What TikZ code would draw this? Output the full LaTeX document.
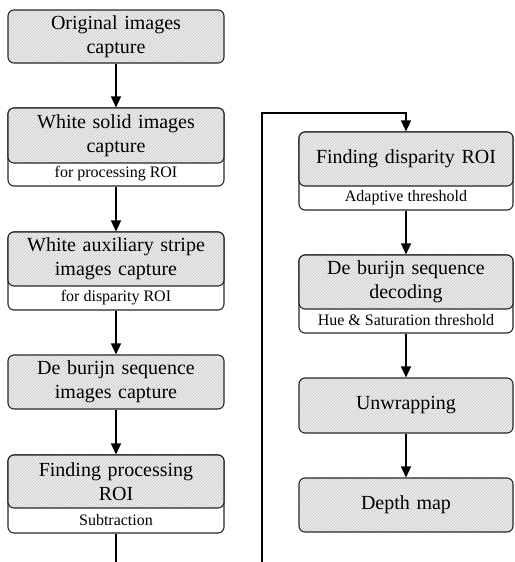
\documentclass[tikz,border=0pt]{standalone}
\usepackage{fontspec}
\setmainfont{Liberation Serif}
\usetikzlibrary{arrows.meta,patterns,calc}
\begin{document}
\begin{tikzpicture}[x=1pt,y=1pt,
  outerbox/.style={draw=black!85, line width=1.1pt, rounded corners=6pt, fill=white, inner sep=0pt},
  graybox/.style={draw=black!85, line width=1.1pt, rounded corners=6pt, inner sep=0pt,
     preaction={fill=gray!13}, pattern=north east lines, pattern color=gray!45,
     align=center, text width=204pt, font=\fontsize{20}{24}\selectfont},
  subtxt/.style={inner sep=0pt, font=\fontsize{16}{17}\selectfont},
  conn/.style={line width=1.3pt, -{Triangle[length=11pt,width=10pt]}},
  plain/.style={line width=1.3pt}
]
\useasboundingbox (0,0) rectangle (514,-562);
% Left column
\node[graybox, minimum width=216pt, minimum height=53pt] (L1) at (116,-36.5) {Original images\\capture};

\node[outerbox, minimum width=216pt, minimum height=78pt] (L2o) at (116,-147) {};
\node[graybox, minimum width=216pt, minimum height=55pt, anchor=north] (L2) at (L2o.north) {White solid images\\capture};
\node[subtxt] (L2s) at ($(L2.south)!0.45!(L2o.south)$) {for processing ROI};

\node[outerbox, minimum width=216pt, minimum height=78pt] (L3o) at (116,-271) {};
\node[graybox, minimum width=216pt, minimum height=54pt, anchor=north] (L3) at (L3o.north) {White auxiliary stripe\\images capture};
\node[subtxt] (L3s) at ($(L3.south)!0.45!(L3o.south)$) {for disparity ROI};

\node[graybox, minimum width=216pt, minimum height=54pt] (L4) at (116,-382) {De burijn sequence\\images capture};

\node[outerbox, minimum width=216pt, minimum height=78pt] (L5o) at (116,-494) {};
\node[graybox, minimum width=216pt, minimum height=53pt, anchor=north] (L5) at (L5o.north) {Finding processing\\ROI};
\node[subtxt] (L5s) at ($(L5.south)!0.45!(L5o.south)$) {Subtraction};

% Right column
\node[outerbox, minimum width=214pt, minimum height=78pt] (R1o) at (406,-171) {};
\node[graybox, minimum width=214pt, minimum height=54pt, anchor=north] (R1) at (R1o.north) {Finding disparity ROI};
\node[subtxt] (R1s) at ($(R1.south)!0.45!(R1o.south)$) {Adaptive threshold};

\node[outerbox, minimum width=214pt, minimum height=78pt] (R2o) at (406,-294) {};
\node[graybox, minimum width=214pt, minimum height=54pt, anchor=north] (R2) at (R2o.north) {De burijn sequence\\decoding};
\node[subtxt] (R2s) at ($(R2.south)!0.45!(R2o.south)$) {Hue \& Saturation threshold};

\node[graybox, minimum width=214pt, minimum height=55pt] (R3) at (406,-405.5) {Unwrapping};
\node[graybox, minimum width=214pt, minimum height=54pt] (R4) at (406,-505) {Depth map};

% Connectors
\draw[conn] (L1) -- (L2o);
\draw[conn] (L2o) -- (L3o);
\draw[conn] (L3o) -- (L4);
\draw[conn] (L4) -- (L5o);
\coordinate (Lend) at (116,-563);
\draw[plain] (L5o.south) -- (Lend);
\coordinate (Rstart) at (262,-563);
\coordinate (Rturn) at (262,-113);
\draw[conn] (Rstart) -- (Rturn) -| (R1o.north);
\draw[conn] (R1o) -- (R2o);
\draw[conn] (R2o) -- (R3);
\draw[conn] (R3) -- (R4);
\end{tikzpicture}
\end{document}
